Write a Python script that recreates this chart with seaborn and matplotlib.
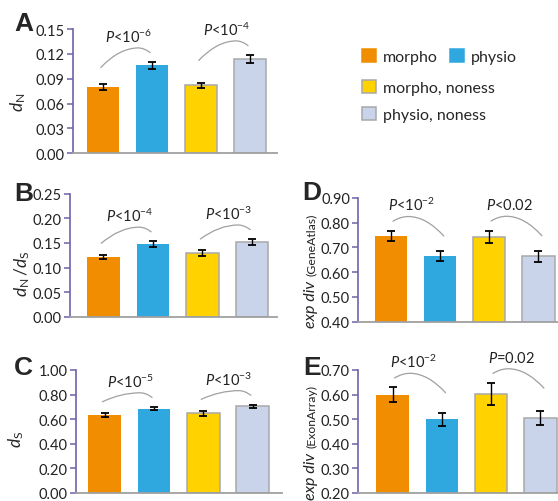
import matplotlib
matplotlib.use("Agg")
import matplotlib.pyplot as plt
import matplotlib.transforms as mtransforms
from matplotlib.path import Path
from matplotlib.patches import PathPatch, Patch
import seaborn as sns


# ---- data -----------------------------------------------------------------
groups = ["morpho", "physio", "morpho, noness", "physio, noness"]
colors = ["#F18D00", "#2FA8E0", "#FFD200", "#C9D4EA"]
edges = ["none", "none", "#A8A8A8", "#A8A8A8"]

dn = [0.080, 0.106, 0.082, 0.114]
dn_err = [0.0033, 0.004, 0.0034, 0.0045]

dnds = [0.1216, 0.1474, 0.129, 0.152]
dnds_err = [0.0048, 0.006, 0.006, 0.0058]

ds = [0.634, 0.686, 0.648, 0.705]
ds_err = [0.016, 0.0135, 0.022, 0.012]

gene_atlas = [0.747, 0.666, 0.742, 0.665]
gene_atlas_err = [0.020, 0.020, 0.026, 0.022]

exon_array = [0.599, 0.499, 0.602, 0.503]
exon_array_err = [0.030, 0.026, 0.0455, 0.0285]

p_dn = [r"$P$<10$^{-6}$", r"$P$<10$^{-4}$"]
p_dnds = [r"$P$<10$^{-4}$", r"$P$<10$^{-3}$"]
p_ds = [r"$P$<10$^{-5}$", r"$P$<10$^{-3}$"]
p_gene_atlas = [r"$P$<10$^{-2}$", r"$P$<0.02"]
p_exon_array = [r"$P$<10$^{-2}$", r"$P$=0.02"]

SPINE_LEFT = "#6E62A8"
SPINE_BOTTOM = "#A0A0A0"
ARC_COLOR = "#A0A0A0"

sns.set_style("white")
plt.rcParams["font.family"] = ["Lato", "DejaVu Sans"]
plt.rcParams["mathtext.fontset"] = "custom"
plt.rcParams["mathtext.it"] = "Lato:italic"
plt.rcParams["mathtext.rm"] = "Lato"
plt.rcParams["mathtext.bf"] = "Lato:bold"


def draw_arc(ax, i, tops, ylim, label):
    """curved bracket between bar i and i+1, with the P-value above it"""
    j = i + 1
    span = ylim[1] - ylim[0]
    ti = (tops[i] - ylim[0]) / span
    tj = (tops[j] - ylim[0]) / span
    trans = mtransforms.blended_transform_factory(ax.transData, ax.transAxes)
    if tj >= ti:
        high_y = tj + 0.075
        low_y = max(ti + 0.09, high_y - 0.12)
        s = (i - 0.05, low_y)
        e = (j - 0.03, high_y)
        pk = (j - 0.28, high_y + 0.04)
        tx = i + 0.52
    else:
        high_y = ti + 0.075
        low_y = max(tj + 0.09, high_y - 0.12)
        s = (i + 0.03, high_y)
        e = (j + 0.08, low_y)
        pk = (i + 0.35, high_y + 0.04)
        tx = i + 0.42
    c1 = (s[0] + 0.5 * (pk[0] - s[0]), pk[1])
    c2 = (pk[0] + 0.5 * (e[0] - pk[0]), pk[1])
    path = Path([s, c1, pk, c2, e],
                [Path.MOVETO, Path.CURVE3, Path.CURVE3, Path.CURVE3, Path.CURVE3])
    ax.add_patch(PathPatch(path, fc="none", ec=ARC_COLOR, lw=0.9,
                           transform=trans, clip_on=False))
    ax.text(tx, pk[1] + 0.095, label, transform=trans, ha="center", va="center",
            fontsize=10.5, color="#222222", clip_on=False)


def bar_panel(ax, vals, errs, ylim, step, xlim, pvals):
    sns.barplot(x=groups, y=vals, hue=groups, palette=colors, legend=False,
                width=0.66, saturation=1, ax=ax)
    for patch, ec in zip(ax.patches, edges):
        if ec != "none":
            patch.set_edgecolor(ec)
            patch.set_linewidth(1.1)
        else:
            patch.set_linewidth(0)
    ax.errorbar(range(len(vals)), vals, yerr=errs, fmt="none", ecolor="black",
                elinewidth=1.0, capsize=2.8, capthick=1.3)
    ax.set_ylim(*ylim)
    ax.set_xlim(*xlim)
    n = int(round((ylim[1] - ylim[0]) / step))
    ax.set_yticks([ylim[0] + k * step for k in range(n + 1)])
    ax.yaxis.set_major_formatter(matplotlib.ticker.FormatStrFormatter("%.2f"))
    ax.set_xticks([])
    ax.set_xlabel("")
    for side in ["top", "right"]:
        ax.spines[side].set_visible(False)
    ax.spines["left"].set_color(SPINE_LEFT)
    ax.spines["left"].set_linewidth(1.2)
    ax.spines["bottom"].set_color(SPINE_BOTTOM)
    ax.spines["bottom"].set_linewidth(1.3)
    ax.tick_params(axis="y", which="major", left=True, length=4, width=1.1,
                   color=SPINE_LEFT, pad=2, labelsize=10.5, labelcolor="#222222")
    tops = [v + e for v, e in zip(vals, errs)]
    for k, lab in enumerate(pvals):
        draw_arc(ax, 2 * k, tops, ylim, lab)


fig = plt.figure(figsize=(5.58, 5.02), dpi=100)

axA = fig.add_axes([0.131, 0.693, 0.365, 0.247])
bar_panel(axA, dn, dn_err, (0.0, 0.15), 0.03, (-0.61, 3.55), p_dn)
axA.set_ylabel(r"$d_{\mathrm{N}}$", fontsize=12.5)
axA.yaxis.set_label_coords(-0.22, 0.42)

axB = fig.add_axes([0.125, 0.367, 0.371, 0.245])
bar_panel(axB, dnds, dnds_err, (0.0, 0.25), 0.05, (-0.68, 3.5), p_dnds)
axB.set_ylabel(r"$d_{\mathrm{N}}\,/d_{\mathrm{S}}$", fontsize=12.5)
axB.yaxis.set_label_coords(-0.184, 0.36)

axC = fig.add_axes([0.136, 0.016, 0.369, 0.245])
bar_panel(axC, ds, ds_err, (0.0, 1.0), 0.2, (-0.58, 3.59), p_ds)
axC.set_ylabel(r"$d_{\mathrm{S}}$", fontsize=12.5)
axC.yaxis.set_label_coords(-0.24, 0.44)

axD = fig.add_axes([0.642, 0.357, 0.358, 0.247])
bar_panel(axD, gene_atlas, gene_atlas_err, (0.4, 0.9), 0.1, (-0.67, 3.4), p_gene_atlas)

axE = fig.add_axes([0.642, 0.016, 0.358, 0.245])
bar_panel(axE, exon_array, exon_array_err, (0.2, 0.7), 0.1, (-0.70, 3.36), p_exon_array)

for ax, small, y0 in [(axD, "(GeneAtlas)", -0.04), (axE, "(ExonArray)", -0.05)]:
    ax.text(-0.215, y0, "exp div", style="italic", fontsize=11.5, rotation=90,
            rotation_mode="anchor", ha="left", va="baseline",
            transform=ax.transAxes, color="#222222")
    ax.text(-0.215, y0 + 0.42, small, fontsize=8.8, rotation=90,
            rotation_mode="anchor", ha="left", va="baseline",
            transform=ax.transAxes, color="#222222")

# panel letters
for letter, (px, py) in zip("ABCDE", [(24, 24), (24, 194), (23, 368), (312, 193), (312, 368)]):
    fig.text(px / 558, 1 - py / 502, letter, ha="center", va="center",
             fontsize=19, fontweight="bold", family=["Liberation Sans", "DejaVu Sans"])

# legend: one row with two entries, then two single rows
handles = [Patch(facecolor=c, edgecolor=(e if e != "none" else c), linewidth=1.1)
           for c, e in zip(colors, edges)]
leg_style = dict(loc="upper left", frameon=False, fontsize=11.5,
                 handlelength=0.85, handleheight=0.85, handletextpad=0.45,
                 borderpad=0, borderaxespad=0)
fig.legend(handles[:2], groups[:2], ncol=2, columnspacing=0.8,
           bbox_to_anchor=(362 / 558, 1 - 50 / 502), **leg_style)
fig.legend(handles[2:], groups[2:], labelspacing=0.75,
           bbox_to_anchor=(362 / 558, 1 - 81 / 502), **leg_style)

fig.savefig("out.png", dpi=100)
